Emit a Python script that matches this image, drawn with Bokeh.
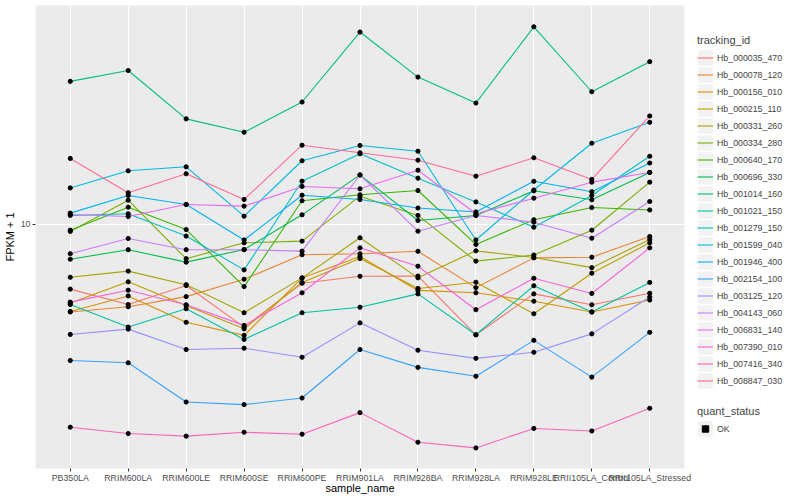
from bokeh.plotting import figure
from bokeh.models import FactorRange, Range1d, FixedTicker, Legend, LegendItem
from bokeh.layouts import row, column
from bokeh.embed import file_html
from bokeh.resources import INLINE

FONT = "Liberation Sans"

categories = ["PB350LA", "RRIM600LA", "RRIM600LE", "RRIM600SE", "RRIM600PE", "RRIM901LA",
              "RRIM928BA", "RRIM928LA", "RRIM928LE", "RRII105LA_Control", "RRII105LA_Stressed"]

tracking_ids = ["Hb_000035_470", "Hb_000078_120", "Hb_000156_010", "Hb_000215_110", "Hb_000331_260",
                "Hb_000334_280", "Hb_000640_170", "Hb_000696_330", "Hb_001014_160", "Hb_001021_150",
                "Hb_001279_150", "Hb_001599_040", "Hb_001946_400", "Hb_002154_100", "Hb_003125_120",
                "Hb_004143_060", "Hb_006831_140", "Hb_007390_010", "Hb_007416_340", "Hb_008847_030"]

colors = ["#F8766D", "#EA8331", "#D89000", "#C09B00", "#A3A500", "#7CAE00", "#39B600", "#00BB4E",
          "#00BF7D", "#00C1A3", "#00BFC4", "#00BAE0", "#00B0F6", "#35A2FF", "#9590FF", "#C77CFF",
          "#E76BF3", "#FA62DB", "#FF62BC", "#FF6C91"]

quant_status = ["OK"]

# FPKM + 1 values per sample (order of categories)
hb_000035_470 = [6.09, 5.41, 6.26, 4.55, 6.37, 6.72, 6.73, 4.29, 5.87, 5.40, 5.90]
hb_000078_120 = [5.11, 5.32, 5.75, 6.57, 7.93, 7.99, 8.14, 6.16, 7.74, 7.78, 9.12]
hb_000156_010 = [5.13, 5.78, 4.72, 4.27, 6.63, 7.82, 6.03, 5.92, 5.55, 5.11, 5.60]
hb_000215_110 = [5.47, 6.44, 5.37, 4.49, 6.41, 7.70, 6.12, 6.42, 5.04, 6.88, 8.69]
hb_000331_260 = [6.67, 6.99, 6.30, 5.08, 6.64, 9.03, 6.64, 8.17, 7.76, 7.18, 8.91]
hb_000334_280 = [9.48, 12.05, 7.69, 8.69, 8.80, 12.43, 10.72, 7.55, 7.91, 9.57, 13.84]
hb_000640_170 = [9.57, 11.42, 9.62, 6.21, 12.00, 12.56, 12.98, 8.58, 10.37, 11.39, 11.18]
hb_000696_330 = [7.66, 8.24, 7.49, 8.25, 10.77, 14.64, 10.31, 10.72, 12.95, 12.09, 14.91]
hb_001014_160 = [30.0, 32.6, 22.5, 20.3, 25.6, 43.8, 31.0, 25.4, 45.6, 27.7, 34.9]
hb_001021_150 = [5.41, 4.55, 5.24, 4.14, 5.08, 5.30, 5.87, 4.29, 6.25, 5.11, 6.41]
hb_001279_150 = [10.72, 10.86, 9.15, 7.06, 13.94, 17.21, 14.27, 11.89, 9.79, 12.49, 16.88]
hb_001599_040 = [13.24, 15.10, 15.57, 10.66, 16.31, 18.34, 17.55, 8.88, 13.03, 18.66, 21.91]
hb_001946_400 = [10.91, 12.49, 11.66, 8.88, 12.52, 12.11, 11.35, 11.01, 13.93, 12.86, 16.03]
hb_002154_100 = [3.52, 3.46, 2.56, 2.51, 2.64, 3.83, 3.34, 3.12, 4.11, 3.10, 4.37]
hb_003125_120 = [4.30, 4.48, 3.83, 3.87, 3.61, 4.70, 3.81, 3.58, 3.75, 4.32, 5.73]
hb_004143_060 = [7.99, 8.98, 8.24, 8.24, 8.15, 14.62, 9.50, 10.72, 10.18, 9.00, 11.93]
hb_006831_140 = [10.80, 10.63, 11.66, 11.51, 13.39, 13.15, 15.17, 10.86, 12.24, 13.84, 14.91]
hb_007390_010 = [5.51, 6.04, 5.40, 4.61, 5.92, 8.36, 7.26, 5.20, 6.62, 5.89, 8.36]
hb_007416_340 = [2.11, 2.01, 1.97, 2.03, 2.00, 2.36, 1.88, 1.80, 2.09, 2.05, 2.44]
hb_008847_030 = [16.6, 12.76, 14.76, 12.12, 18.38, 17.34, 16.38, 14.49, 16.69, 14.13, 23.0]

series_values = [hb_000035_470, hb_000078_120, hb_000156_010, hb_000215_110, hb_000331_260,
                 hb_000334_280, hb_000640_170, hb_000696_330, hb_001014_160, hb_001021_150,
                 hb_001279_150, hb_001599_040, hb_001946_400, hb_002154_100, hb_003125_120,
                 hb_004143_060, hb_006831_140, hb_007390_010, hb_007416_340, hb_008847_030]

# ---------------- main plot ----------------
p = figure(x_range=FactorRange(factors=categories, range_padding=0.1, range_padding_units="absolute"),
           y_axis_type="log", y_range=Range1d(1.537, 53.70),
           frame_width=649, frame_height=463,
           min_border_left=0, min_border_right=7, min_border_top=5, min_border_bottom=0,
           background_fill_color="#EBEBEB", border_fill_color="white", outline_line_color=None,
           output_backend="svg", toolbar_location=None)

for vals, col in zip(series_values, colors):
    p.line(x=categories, y=vals, line_color=col, line_width=1.1)
for vals in series_values:
    p.scatter(x=categories, y=vals, marker="circle", size=4.2, color="black")

p.xaxis.axis_label = "sample_name"
p.yaxis.axis_label = "FPKM + 1"
for ax in (p.xaxis, p.yaxis):
    ax.axis_line_color = None
    ax.major_tick_line_color = "#333333"
    ax.major_tick_out = 3
    ax.major_tick_in = 0
    ax.minor_tick_line_color = None
    ax.major_label_text_font = FONT
    ax.major_label_text_font_size = "8.8px"
    ax.major_label_text_color = "#4D4D4D"
    ax.major_label_standoff = 2
    ax.axis_label_text_font = FONT
    ax.axis_label_text_font_size = "11px"
    ax.axis_label_text_font_style = "normal"
    ax.axis_label_text_color = "black"
    ax.axis_label_standoff = 2
p.xaxis.major_label_standoff = 1
p.xaxis.axis_label_standoff = -4
p.yaxis.ticker = FixedTicker(ticks=[10])
p.yaxis.major_label_overrides = {10: "10"}
for g in (p.xgrid, p.ygrid):
    g.grid_line_color = "white"
    g.grid_line_width = 1.1
    g.minor_grid_line_color = None

# ---------------- legends ----------------
def legend_fig(height, top):
    return figure(width=101, height=height, x_range=Range1d(0, 1), y_range=Range1d(0, 1),
                  x_axis_type=None, y_axis_type=None,
                  min_border_left=6, min_border_top=top, min_border_right=0, min_border_bottom=0,
                  outline_line_color=None, background_fill_color="white", border_fill_color="white",
                  output_backend="svg", toolbar_location=None)

def style_legend(lg):
    lg.location = "top_left"
    lg.title_text_font = FONT
    lg.title_text_font_size = "11px"
    lg.title_text_font_style = "normal"
    lg.title_standoff = 3
    lg.label_text_font = FONT
    lg.label_text_font_size = "8.8px"
    lg.glyph_width = 16
    lg.glyph_height = 17
    lg.label_height = 17
    lg.spacing = 0
    lg.padding = 0
    lg.margin = 0
    lg.label_standoff = 4
    lg.border_line_color = None
    lg.background_fill_alpha = 0

# key renderers are placed outside the visible range so only the legend shows them
OFF_X = [5, 6]
OFF_Y = [5, 5]

leg1 = legend_fig(392, 34)
items = []
for tid, col in zip(tracking_ids, colors):
    bg = leg1.rect(x=OFF_X, y=OFF_Y, width=1, height=1, fill_color="#F2F2F2",
                   line_color="#F2F2F2", line_width=2)
    ln = leg1.line(x=OFF_X, y=OFF_Y, line_color=col, line_width=1.1)
    items.append(LegendItem(label=tid, renderers=[bg, ln]))
legend1 = Legend(items=items, title="tracking_id")
style_legend(legend1)
leg1.add_layout(legend1)

leg2 = legend_fig(100, 13)
bg2 = leg2.rect(x=OFF_X, y=OFF_Y, width=1, height=1, fill_color="#F2F2F2",
                line_color="#F2F2F2", line_width=2)
pt2 = leg2.scatter(x=OFF_X, y=OFF_Y, marker="square", size=4, color="black")
legend2 = Legend(items=[LegendItem(label=quant_status[0], renderers=[bg2, pt2])], title="quant_status")
style_legend(legend2)
leg2.add_layout(legend2)

layout = row(p, column(leg1, leg2))
open("out.html", "w").write(file_html(layout, INLINE))
